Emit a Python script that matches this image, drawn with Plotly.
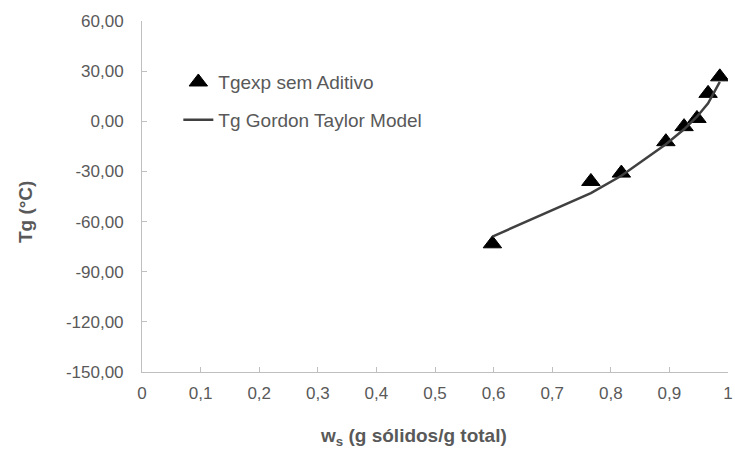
import plotly.graph_objects as go

# Solids mass fraction (g solids / g total)
ws = [0.598, 0.766, 0.818, 0.894, 0.925, 0.947, 0.966, 0.986]
# Experimental glass transition temperature, no additive (°C)
tg_exp = [-73.3, -36.0, -31.0, -12.2, -3.2, 1.7, 16.7, 26.6]
# Gordon-Taylor model prediction (°C)
tg_gt = [-69.0, -43.0, -32.6, -13.7, -4.8, 2.7, 10.7, 23.6]

y_ticks = [60, 30, 0, -30, -60, -90, -120, -150]
y_tick_text = ["60,00", "30,00", "0,00", "-30,00", "-60,00", "-90,00", "-120,00", "-150,00"]
x_ticks = [0, 0.1, 0.2, 0.3, 0.4, 0.5, 0.6, 0.7, 0.8, 0.9, 1]
x_tick_text = ["0", "0,1", "0,2", "0,3", "0,4", "0,5", "0,6", "0,7", "0,8", "0,9", "1"]

FONT = "Liberation Sans, Arial, sans-serif"
TXT = "#595959"
AX = "#bfbfbf"

fig = go.Figure()
fig.add_trace(go.Scatter(
    x=ws, y=tg_exp, mode="markers", name="Tgexp sem Aditivo",
    legendgroup="a",
    marker=dict(symbol="triangle-up", size=16, color="black",
                line=dict(color="black", width=1)),
))
fig.add_trace(go.Scatter(
    x=ws, y=tg_gt, mode="lines", name="Tg Gordon Taylor Model",
    legendgroup="b",
    line=dict(color="#404040", width=2.5),
))

fig.update_layout(
    width=735, height=450,
    margin=dict(l=142, r=2, t=21, b=78),
    paper_bgcolor="white", plot_bgcolor="white",
    font=dict(family=FONT, color=TXT, size=17),
    showlegend=True,
    legend=dict(x=0.062, y=0.88, xanchor="left", yanchor="top",
                font=dict(size=19, color=TXT), bgcolor="rgba(0,0,0,0)",
                tracegroupgap=10),
    xaxis=dict(range=[0, 1], tickvals=x_ticks, ticktext=x_tick_text,
               showgrid=False, zeroline=False,
               showline=True, linecolor=AX, linewidth=1,
               ticks="inside", tickcolor=AX, ticklen=5,
               ticklabelstandoff=6, ticklabeloverflow="allow",
               tickfont=dict(size=17, color=TXT)),
    yaxis=dict(range=[-150, 60], tickvals=y_ticks, ticktext=y_tick_text,
               showgrid=False, zeroline=False,
               showline=True, linecolor=AX, linewidth=1,
               ticks="inside", tickcolor=AX, ticklen=5,
               ticklabelstandoff=14,
               tickfont=dict(size=17, color=TXT)),
    annotations=[
        dict(text="<b>Tg (°C)</b>", xref="paper", yref="paper",
             x=-0.2, y=0.455, textangle=-90, showarrow=False,
             font=dict(size=19, color=TXT), xanchor="center", yanchor="middle"),
        dict(text="<b>w<sub>s</sub> (g sólidos/g total)</b>", xref="paper", yref="paper",
             x=0.463, y=-0.185, showarrow=False,
             font=dict(size=19, color=TXT), xanchor="center", yanchor="middle"),
    ],
)

fig.write_html("out.html")
